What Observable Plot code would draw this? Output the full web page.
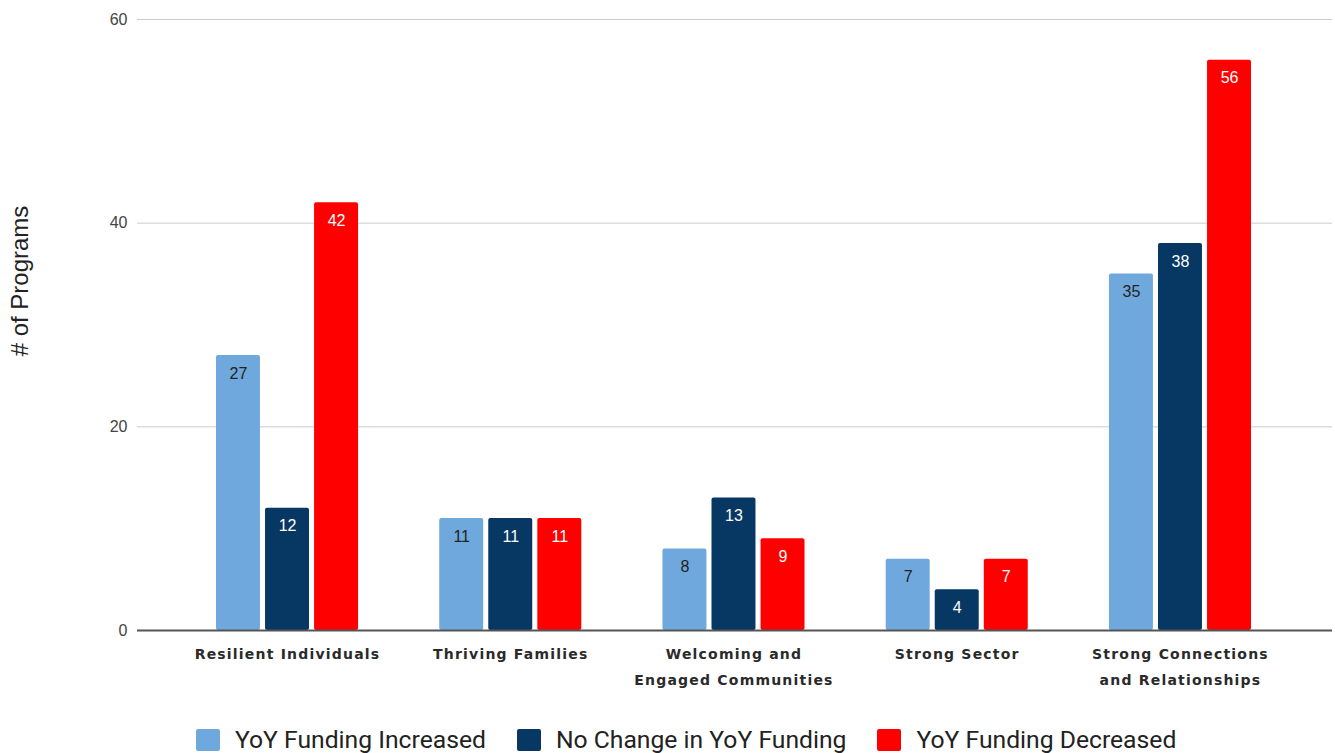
<!DOCTYPE html>
<html>
<head>
<meta charset="utf-8">
<script src="https://cdn.jsdelivr.net/npm/d3@7"></script>
<script src="https://cdn.jsdelivr.net/npm/@observablehq/plot@0.6"></script>
<style>
  body { margin: 0; background: #fff; }
  #chart { width: 1335px; }
  .legend { display: flex; align-items: center; padding-left: 196px; margin-top: 25px;
    font-family: Roboto, sans-serif; font-size: 24.7px; color: #222; }
  .legend .item { display: flex; align-items: center; margin-right: 31px; }
  .legend .sw { width: 24px; height: 22px; border-radius: 2px; margin-right: 15px; }
</style>
</head>
<body>
<div id="chart"></div>
<script>
const categories = ["Resilient Individuals", "Thriving Families", "Welcoming and\nEngaged Communities", "Strong Sector", "Strong Connections\nand Relationships"];
const series = ["YoY Funding Increased", "No Change in YoY Funding", "YoY Funding Decreased"];
const colors = ["#6fa8dc", "#073763", "#ff0000"];
const increased = [27, 11, 8, 7, 35];
const noChange = [12, 11, 13, 4, 38];
const decreased = [42, 11, 9, 7, 56];
const yTicks = [0, 20, 40, 60];
const yLabel = "# of Programs";

// group layout (in category units): bar step and half bar width
const barStep = 0.2197, halfBar = 0.0985;

const seriesValues = [increased, noChange, decreased];
const data = [];
categories.forEach((c, i) => series.forEach((s, j) => data.push({
  ci: i, si: j, category: c, series: s, value: seriesValues[j][i]
})));
const center = d => d.ci + (d.si - 1) * barStep;

const chart = Plot.plot({
  width: 1335,
  height: 700,
  marginLeft: 137,
  marginRight: 3,
  marginTop: 19,
  marginBottom: 70,
  style: {fontFamily: "Liberation Sans, Arial, sans-serif", color: "#222", background: "#fff"},
  x: {type: "linear", domain: [-0.672, 4.681], label: null},
  y: {domain: [0, 60], label: null},
  color: {domain: series, range: colors},
  marks: [
    Plot.ruleY(yTicks.filter(d => d !== 0), {stroke: "#cccccc", strokeWidth: 1}),
    Plot.axisY({ticks: yTicks, tickSize: 0, tickPadding: 10, fontSize: 16, fill: "#444", label: null}),
    Plot.axisX({ticks: categories.map((c, i) => i), tickFormat: i => categories[i], tickSize: 0, tickPadding: 11,
      fontSize: 14, lineHeight: 1.8, fontWeight: "bold", fontFamily: "DejaVu Sans", fill: "#2a2a2a", label: null}),
    Plot.rectY(data, {x1: d => center(d) - halfBar, x2: d => center(d) + halfBar, y: "value", fill: "series", rx: 2}),
    Plot.ruleY([0], {stroke: "#555", strokeWidth: 2}),
    Plot.text(data.filter(d => d.si === 0), {x: center, y: "value", text: "value", dy: 18, fill: "#222", fontSize: 16}),
    Plot.text(data.filter(d => d.si !== 0), {x: center, y: "value", text: "value", dy: 18, fill: "#fff", fontSize: 16}),
    Plot.text([yLabel], {frameAnchor: "left", textAnchor: "middle", rotate: -90, dx: -117, dy: -44, fontSize: 24, fill: "#222"})
  ]
});
chart.querySelectorAll("[aria-label='x-axis tick label'] text").forEach(t => t.style.letterSpacing = "1.2px");
document.getElementById("chart").appendChild(chart);

const legend = document.createElement("div");
legend.className = "legend";
series.forEach((s, i) => {
  const item = document.createElement("div");
  item.className = "item";
  const sw = document.createElement("span");
  sw.className = "sw";
  sw.style.background = colors[i];
  const label = document.createElement("span");
  label.textContent = s;
  item.appendChild(sw);
  item.appendChild(label);
  legend.appendChild(item);
});
document.getElementById("chart").appendChild(legend);
</script>
</body>
</html>
